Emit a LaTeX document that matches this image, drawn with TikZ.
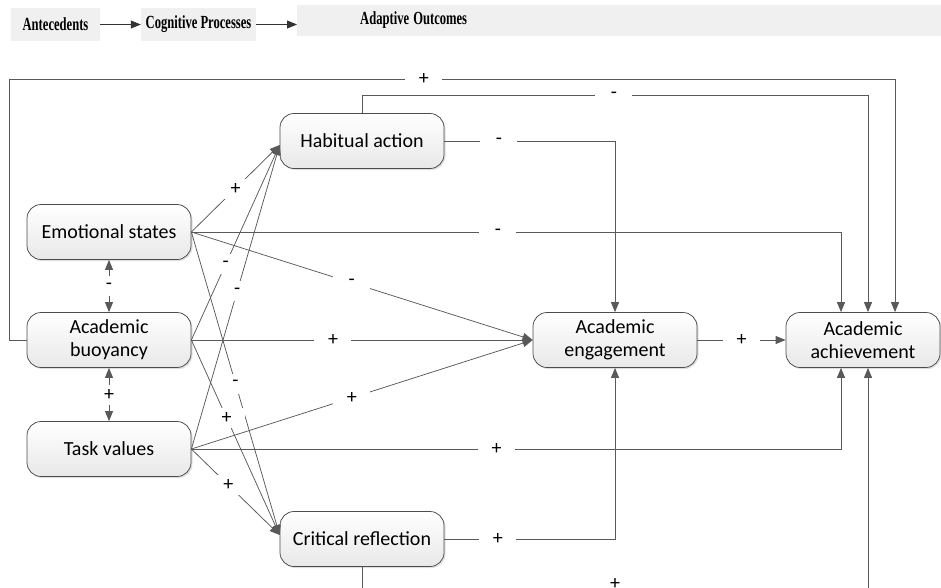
\documentclass[tikz,border=0pt]{standalone}
\usepackage{fontspec}
\setmainfont{Carlito}
\newfontfamily\headfont{Liberation Serif}
\usepackage{tikz}
\usetikzlibrary{arrows.meta,shadows}
\tikzstyle{block} = [rectangle, rounded corners=14pt, minimum width=164pt, minimum height=55pt, align=center, draw=black!70, line width=0.75pt, top color=white, bottom color=black!9, drop shadow={shadow xshift=1.5pt, shadow yshift=-1.5pt, opacity=0.25}, font=\fontsize{20}{23}\selectfont]
\tikzstyle{head} = [rectangle, fill=black!6, minimum height=33pt, inner xsep=0pt, font=\headfont\bfseries\fontsize{18.5}{18.5}\selectfont]
\tikzstyle{sign} = [fill=white, minimum width=37pt, minimum height=20pt, inner sep=0pt, font=\fontsize{20}{20}\selectfont]
\tikzstyle{arrow} = [draw=black!65, line width=0.75pt, ->]
\newcommand{\squeeze}[1]{\scalebox{0.68}[1]{#1}}

\begin{document}
\begin{tikzpicture}[x=1pt, y=-1pt, >={Triangle[length=10pt, width=8pt]}, node distance=108pt]
	\clip (0,0) rectangle (941,587);
	% stages
	\node (ante) [head, minimum width=89pt] at (55.5,24.5) {\squeeze{Antecedents}};
	\node (cogn) [head, minimum width=115pt] at (198.5,24.5) {\squeeze{Cognitive Processes}};
	\node (adapt) [head, minimum height=31pt, anchor=west, text width=644pt, align=left] at (297,20.5) {\hspace*{63pt}\squeeze{Adaptive Outcomes}};
	\draw [arrow, draw=black!80] (ante) -- (cogn);
	\draw [arrow, draw=black!80] (cogn.east) -- (cogn.east -| adapt.west);

	% model
	\node (buoy) [block] at (109,340) {Academic\\buoyancy};
	\node (emo) [block, above of=buoy] {Emotional states};
	\node (task) [block, below of=buoy, yshift=-1pt] {Task values};
	\node (habit) [block] at (362,141) {Habitual action};
	\node (crit) [block, below of=habit, yshift=-290pt] {Critical reflection};
	\node (engage) [block] at (615,340) {Academic\\engagement};
	\node (achieve) [block, right of=engage, xshift=140pt, minimum width=154pt] {Academic\\achievement};

	\draw [arrow] (emo.east) -- node[sign, pos=0.5] {+} ([yshift=-4pt]habit.west);
	\draw [arrow] (buoy.east) -- node[sign, pos=0.39] {-} ([yshift=-4pt]habit.west);
	\draw [arrow] (task.east) -- node[sign, pos=0.52] {-} ([yshift=-4pt]habit.west);
	\draw [arrow] (emo.east) -- node[sign, pos=0.5] {-} ([yshift=4pt]crit.west);
	\draw [arrow] (buoy.east) -- node[sign, pos=0.4] {+} ([yshift=4pt]crit.west);
	\draw [arrow] (task.east) -- node[sign, pos=0.42] {+} ([yshift=4pt]crit.west);
	\draw [arrow] (emo.east) -- node[sign, pos=0.47] {-} (engage.west);
	\draw [arrow] (buoy) -- node[sign, pos=0.415] {+} (engage);
	\draw [arrow] (task.east) -- node[sign, pos=0.47] {+} (engage.west);
	\draw [arrow] (habit.east) -| node[sign, pos=0.16] {-} (engage.north);
	\draw [arrow] (crit.east) -| node[sign, pos=0.157] {+} (engage.south);
	\draw [arrow] (engage) -- node[sign] {+} (achieve);
	\draw [arrow] (emo.east) -| node[sign, pos=0.236] {-} ([xshift=-22pt]achieve.north);
	\draw [arrow] (task.east) -| node[sign, pos=0.235] {+} ([xshift=-22pt]achieve.south);
	\draw [arrow] (habit.north) -- ++(0,-18) -| node[sign, pos=0.249] {-} ([xshift=5pt]achieve.north);
	\draw [arrow] (crit.south) -- ++(0,24) -| node[sign, pos=0.25, yshift=7pt, fill=none] {+} ([xshift=5pt]achieve.south);
	\draw [arrow] (buoy.west) -- ++(-17,0) -- ++(0,-261) -| node[sign, pos=0.234] {+} ([xshift=32pt]achieve.north);
	\draw [arrow, <->] (emo) -- node[sign] {-} (buoy);
	\draw [arrow, <->] (buoy) -- node[sign] {+} (task);
\end{tikzpicture}
\end{document}
